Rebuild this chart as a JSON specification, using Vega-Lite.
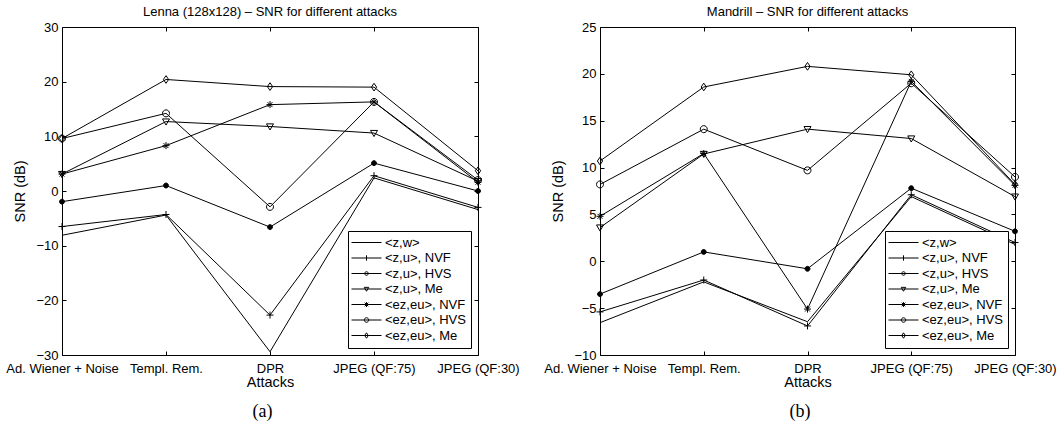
{
  "$schema": "https://vega.github.io/schema/vega-lite/v6.json",
  "padding": {"left": 5, "top": 5, "right": 0, "bottom": 0},
  "background": "white",
  "config": {
    "view": {"stroke": "black", "strokeWidth": 1},
    "font": "Liberation Sans",
    "axis": {
      "grid": false, "domain": false, "tickColor": "black", "tickSize": -4,
      "labelFont": "Liberation Sans", "labelFontSize": 13, "labelColor": "black",
      "titleFont": "Liberation Sans", "titleFontSize": 14.5, "titleFontWeight": "normal", "titleColor": "black",
      "labelOverlap": false, "labelFlush": false, "labelBound": false
    },
    "title": {"font": "Liberation Sans", "fontSize": 13, "fontWeight": "normal", "color": "black"},
    "legend": {
      "orient": "bottom-right", "offset": 7, "strokeColor": "black", "fillColor": "white",
      "padding": 5, "labelFont": "Liberation Sans", "labelFontSize": 13, "labelColor": "black",
      "symbolSize": 36, "symbolStrokeWidth": 1, "symbolOffset": 7, "labelOffset": 12, "rowPadding": 1.5
    }
  },
  "datasets": {
    "lenna": [
      {"attack": "Ad. Wiener + Noise", "series": "<z,w>", "snr": -8.1},
      {"attack": "Templ. Rem.", "series": "<z,w>", "snr": -4.4},
      {"attack": "DPR", "series": "<z,w>", "snr": -29.4},
      {"attack": "JPEG (QF:75)", "series": "<z,w>", "snr": 2.4},
      {"attack": "JPEG (QF:30)", "series": "<z,w>", "snr": -3.4},
      {"attack": "Ad. Wiener + Noise", "series": "<z,u>, NVF", "snr": -6.5},
      {"attack": "Templ. Rem.", "series": "<z,u>, NVF", "snr": -4.3},
      {"attack": "DPR", "series": "<z,u>, NVF", "snr": -22.7},
      {"attack": "JPEG (QF:75)", "series": "<z,u>, NVF", "snr": 2.8},
      {"attack": "JPEG (QF:30)", "series": "<z,u>, NVF", "snr": -3.0},
      {"attack": "Ad. Wiener + Noise", "series": "<z,u>, HVS", "snr": -1.95},
      {"attack": "Templ. Rem.", "series": "<z,u>, HVS", "snr": 1.0},
      {"attack": "DPR", "series": "<z,u>, HVS", "snr": -6.6},
      {"attack": "JPEG (QF:75)", "series": "<z,u>, HVS", "snr": 5.1},
      {"attack": "JPEG (QF:30)", "series": "<z,u>, HVS", "snr": 0.0},
      {"attack": "Ad. Wiener + Noise", "series": "<z,u>, Me", "snr": 3.1},
      {"attack": "Templ. Rem.", "series": "<z,u>, Me", "snr": 12.7},
      {"attack": "DPR", "series": "<z,u>, Me", "snr": 11.8},
      {"attack": "JPEG (QF:75)", "series": "<z,u>, Me", "snr": 10.6},
      {"attack": "JPEG (QF:30)", "series": "<z,u>, Me", "snr": 1.8},
      {"attack": "Ad. Wiener + Noise", "series": "<ez,eu>, NVF", "snr": 3.1},
      {"attack": "Templ. Rem.", "series": "<ez,eu>, NVF", "snr": 8.3},
      {"attack": "DPR", "series": "<ez,eu>, NVF", "snr": 15.8},
      {"attack": "JPEG (QF:75)", "series": "<ez,eu>, NVF", "snr": 16.3},
      {"attack": "JPEG (QF:30)", "series": "<ez,eu>, NVF", "snr": 1.6},
      {"attack": "Ad. Wiener + Noise", "series": "<ez,eu>, HVS", "snr": 9.6},
      {"attack": "Templ. Rem.", "series": "<ez,eu>, HVS", "snr": 14.2},
      {"attack": "DPR", "series": "<ez,eu>, HVS", "snr": -2.9},
      {"attack": "JPEG (QF:75)", "series": "<ez,eu>, HVS", "snr": 16.3},
      {"attack": "JPEG (QF:30)", "series": "<ez,eu>, HVS", "snr": 2.0},
      {"attack": "Ad. Wiener + Noise", "series": "<ez,eu>, Me", "snr": 9.6},
      {"attack": "Templ. Rem.", "series": "<ez,eu>, Me", "snr": 20.4},
      {"attack": "DPR", "series": "<ez,eu>, Me", "snr": 19.1},
      {"attack": "JPEG (QF:75)", "series": "<ez,eu>, Me", "snr": 19.0},
      {"attack": "JPEG (QF:30)", "series": "<ez,eu>, Me", "snr": 3.7}
    ],
    "mandrill": [
      {"attack": "Ad. Wiener + Noise", "series": "<z,w>", "snr": -6.55},
      {"attack": "Templ. Rem.", "series": "<z,w>", "snr": -2.2},
      {"attack": "DPR", "series": "<z,w>", "snr": -6.45},
      {"attack": "JPEG (QF:75)", "series": "<z,w>", "snr": 6.9},
      {"attack": "JPEG (QF:30)", "series": "<z,w>", "snr": 1.8},
      {"attack": "Ad. Wiener + Noise", "series": "<z,u>, NVF", "snr": -5.4},
      {"attack": "Templ. Rem.", "series": "<z,u>, NVF", "snr": -2.0},
      {"attack": "DPR", "series": "<z,u>, NVF", "snr": -6.9},
      {"attack": "JPEG (QF:75)", "series": "<z,u>, NVF", "snr": 7.1},
      {"attack": "JPEG (QF:30)", "series": "<z,u>, NVF", "snr": 2.0},
      {"attack": "Ad. Wiener + Noise", "series": "<z,u>, HVS", "snr": -3.5},
      {"attack": "Templ. Rem.", "series": "<z,u>, HVS", "snr": 1.0},
      {"attack": "DPR", "series": "<z,u>, HVS", "snr": -0.8},
      {"attack": "JPEG (QF:75)", "series": "<z,u>, HVS", "snr": 7.8},
      {"attack": "JPEG (QF:30)", "series": "<z,u>, HVS", "snr": 3.2},
      {"attack": "Ad. Wiener + Noise", "series": "<z,u>, Me", "snr": 3.6},
      {"attack": "Templ. Rem.", "series": "<z,u>, Me", "snr": 11.45},
      {"attack": "DPR", "series": "<z,u>, Me", "snr": 14.1},
      {"attack": "JPEG (QF:75)", "series": "<z,u>, Me", "snr": 13.1},
      {"attack": "JPEG (QF:30)", "series": "<z,u>, Me", "snr": 6.9},
      {"attack": "Ad. Wiener + Noise", "series": "<ez,eu>, NVF", "snr": 4.8},
      {"attack": "Templ. Rem.", "series": "<ez,eu>, NVF", "snr": 11.5},
      {"attack": "DPR", "series": "<ez,eu>, NVF", "snr": -5.1},
      {"attack": "JPEG (QF:75)", "series": "<ez,eu>, NVF", "snr": 19.2},
      {"attack": "JPEG (QF:30)", "series": "<ez,eu>, NVF", "snr": 8.1},
      {"attack": "Ad. Wiener + Noise", "series": "<ez,eu>, HVS", "snr": 8.2},
      {"attack": "Templ. Rem.", "series": "<ez,eu>, HVS", "snr": 14.1},
      {"attack": "DPR", "series": "<ez,eu>, HVS", "snr": 9.7},
      {"attack": "JPEG (QF:75)", "series": "<ez,eu>, HVS", "snr": 19.0},
      {"attack": "JPEG (QF:30)", "series": "<ez,eu>, HVS", "snr": 9.0},
      {"attack": "Ad. Wiener + Noise", "series": "<ez,eu>, Me", "snr": 10.7},
      {"attack": "Templ. Rem.", "series": "<ez,eu>, Me", "snr": 18.6},
      {"attack": "DPR", "series": "<ez,eu>, Me", "snr": 20.8},
      {"attack": "JPEG (QF:75)", "series": "<ez,eu>, Me", "snr": 19.9},
      {"attack": "JPEG (QF:30)", "series": "<ez,eu>, Me", "snr": 8.2}
    ]
  },
  "hconcat": [
    {
      "title": {"text": "(a)", "orient": "bottom", "anchor": "middle", "font": "Liberation Serif", "fontSize": 18, "fontWeight": "normal", "offset": 14},
      "vconcat": [
        {
          "title": {"text": "Lenna (128x128) – SNR for different attacks", "offset": 2},
          "width": 416, "height": 328,
          "data": {"name": "lenna"},
          "resolve": {"axis": {"x": "independent", "y": "independent"}, "scale": {"shape": "independent", "fill": "independent"}},
          "layer": [
            {
              "mark": {"type": "line", "color": "black", "strokeWidth": 1},
              "encoding": {
                "x": {"field": "attack", "type": "nominal", "sort": ["Ad. Wiener + Noise", "Templ. Rem.", "DPR", "JPEG (QF:75)", "JPEG (QF:30)"], "scale": {"type": "point", "padding": 0}, "axis": {"title": "Attacks", "labelAngle": 0, "labelPadding": 11, "titlePadding": 0}},
                "y": {"field": "snr", "type": "quantitative", "scale": {"domain": [-30, 30], "nice": false, "zero": false}, "axis": {"values": [-30, -20, -10, 0, 10, 20, 30], "title": "SNR (dB)", "labelPadding": 8, "titlePadding": 8}},
                "detail": {"field": "series"}
              }
            },
            {
              "transform": [{"filter": "datum.series !== '<z,w>'"}],
              "mark": {"type": "point", "color": "black", "strokeWidth": 1, "size": 49, "opacity": 1},
              "encoding": {
                "x": {"field": "attack", "type": "nominal", "sort": ["Ad. Wiener + Noise", "Templ. Rem.", "DPR", "JPEG (QF:75)", "JPEG (QF:30)"], "axis": null},
                "y": {"field": "snr", "type": "quantitative", "axis": null},
                "shape": {"field": "series", "legend": null, "scale": {
                  "domain": ["<z,u>, NVF", "<z,u>, HVS", "<z,u>, Me", "<ez,eu>, NVF", "<ez,eu>, HVS", "<ez,eu>, Me"],
                  "range": ["M-1,0L1,0M0,-1L0,1", "M0.7,0A0.7,0.7,0,1,1,-0.7,0A0.7,0.7,0,1,1,0.7,0Z", "M-1,-0.75L1,-0.75L0,1Z", "M-1,0L1,0M0,-1L0,1M-0.7,-0.7L0.7,0.7M-0.7,0.7L0.7,-0.7", "M1,0A1,1,0,1,1,-1,0A1,1,0,1,1,1,0Z", "M0,-1.1L0.75,0L0,1.1L-0.75,0Z"]}},
                "fill": {"field": "series", "legend": null, "scale": {
                  "domain": ["<z,u>, NVF", "<z,u>, HVS", "<z,u>, Me", "<ez,eu>, NVF", "<ez,eu>, HVS", "<ez,eu>, Me"],
                  "range": ["transparent", "black", "transparent", "transparent", "transparent", "transparent"]}}
              }
            },
            {
              "mark": {"type": "point", "color": "black", "strokeWidth": 1, "opacity": 0},
              "encoding": {
                "x": {"field": "attack", "type": "nominal", "sort": ["Ad. Wiener + Noise", "Templ. Rem.", "DPR", "JPEG (QF:75)", "JPEG (QF:30)"], "axis": {"orient": "top", "labels": false, "title": null}},
                "y": {"field": "snr", "type": "quantitative", "axis": {"orient": "right", "labels": false, "title": null, "values": [-30, -20, -10, 0, 10, 20, 30]}},
                "shape": {"field": "series", "title": null, "sort": null, "scale": {
                  "domain": ["<z,w>", "<z,u>, NVF", "<z,u>, HVS", "<z,u>, Me", "<ez,eu>, NVF", "<ez,eu>, HVS", "<ez,eu>, Me"],
                  "range": ["M-5,0L5,0", "M-5,0L5,0M0,-0.9L0,0.9", "M-5,0L5,0M0.6,0A0.6,0.6,0,1,1,-0.6,0A0.6,0.6,0,1,1,0.6,0Z", "M-5,0L5,0M-0.75,-0.55L0.75,-0.55L0,0.75Z", "M-5,0L5,0M0,-0.8L0,0.8M-0.6,-0.6L0.6,0.6M-0.6,0.6L0.6,-0.6", "M-5,0L5,0M0.75,0A0.75,0.75,0,1,1,-0.75,0A0.75,0.75,0,1,1,0.75,0Z", "M-5,0L5,0M0,-0.9L0.6,0L0,0.9L-0.6,0Z"]}},
                "fill": {"field": "series", "title": null, "sort": null, "scale": {
                  "domain": ["<z,w>", "<z,u>, NVF", "<z,u>, HVS", "<z,u>, Me", "<ez,eu>, NVF", "<ez,eu>, HVS", "<ez,eu>, Me"],
                  "range": ["transparent", "transparent", "black", "transparent", "transparent", "transparent", "transparent"]}}
              }
            }
          ]
        }
      ]
    },
    {
      "title": {"text": "(b)", "orient": "bottom", "anchor": "middle", "font": "Liberation Serif", "fontSize": 18, "fontWeight": "normal", "offset": 14},
      "vconcat": [
        {
          "title": {"text": "Mandrill – SNR for different attacks", "offset": 2},
          "width": 415, "height": 328,
          "data": {"name": "mandrill"},
          "resolve": {"axis": {"x": "independent", "y": "independent"}, "scale": {"shape": "independent", "fill": "independent"}},
          "layer": [
            {
              "mark": {"type": "line", "color": "black", "strokeWidth": 1},
              "encoding": {
                "x": {"field": "attack", "type": "nominal", "sort": ["Ad. Wiener + Noise", "Templ. Rem.", "DPR", "JPEG (QF:75)", "JPEG (QF:30)"], "scale": {"type": "point", "padding": 0}, "axis": {"title": "Attacks", "labelAngle": 0, "labelPadding": 11, "titlePadding": 0}},
                "y": {"field": "snr", "type": "quantitative", "scale": {"domain": [-10, 25], "nice": false, "zero": false}, "axis": {"values": [-10, -5, 0, 5, 10, 15, 20, 25], "title": "SNR (dB)", "labelPadding": 8, "titlePadding": 8}},
                "detail": {"field": "series"}
              }
            },
            {
              "transform": [{"filter": "datum.series !== '<z,w>'"}],
              "mark": {"type": "point", "color": "black", "strokeWidth": 1, "size": 49, "opacity": 1},
              "encoding": {
                "x": {"field": "attack", "type": "nominal", "sort": ["Ad. Wiener + Noise", "Templ. Rem.", "DPR", "JPEG (QF:75)", "JPEG (QF:30)"], "axis": null},
                "y": {"field": "snr", "type": "quantitative", "axis": null},
                "shape": {"field": "series", "legend": null, "scale": {
                  "domain": ["<z,u>, NVF", "<z,u>, HVS", "<z,u>, Me", "<ez,eu>, NVF", "<ez,eu>, HVS", "<ez,eu>, Me"],
                  "range": ["M-1,0L1,0M0,-1L0,1", "M0.7,0A0.7,0.7,0,1,1,-0.7,0A0.7,0.7,0,1,1,0.7,0Z", "M-1,-0.75L1,-0.75L0,1Z", "M-1,0L1,0M0,-1L0,1M-0.7,-0.7L0.7,0.7M-0.7,0.7L0.7,-0.7", "M1,0A1,1,0,1,1,-1,0A1,1,0,1,1,1,0Z", "M0,-1.1L0.75,0L0,1.1L-0.75,0Z"]}},
                "fill": {"field": "series", "legend": null, "scale": {
                  "domain": ["<z,u>, NVF", "<z,u>, HVS", "<z,u>, Me", "<ez,eu>, NVF", "<ez,eu>, HVS", "<ez,eu>, Me"],
                  "range": ["transparent", "black", "transparent", "transparent", "transparent", "transparent"]}}
              }
            },
            {
              "mark": {"type": "point", "color": "black", "strokeWidth": 1, "opacity": 0},
              "encoding": {
                "x": {"field": "attack", "type": "nominal", "sort": ["Ad. Wiener + Noise", "Templ. Rem.", "DPR", "JPEG (QF:75)", "JPEG (QF:30)"], "axis": {"orient": "top", "labels": false, "title": null}},
                "y": {"field": "snr", "type": "quantitative", "axis": {"orient": "right", "labels": false, "title": null, "values": [-10, -5, 0, 5, 10, 15, 20, 25]}},
                "shape": {"field": "series", "title": null, "sort": null, "scale": {
                  "domain": ["<z,w>", "<z,u>, NVF", "<z,u>, HVS", "<z,u>, Me", "<ez,eu>, NVF", "<ez,eu>, HVS", "<ez,eu>, Me"],
                  "range": ["M-5,0L5,0", "M-5,0L5,0M0,-0.9L0,0.9", "M-5,0L5,0M0.6,0A0.6,0.6,0,1,1,-0.6,0A0.6,0.6,0,1,1,0.6,0Z", "M-5,0L5,0M-0.75,-0.55L0.75,-0.55L0,0.75Z", "M-5,0L5,0M0,-0.8L0,0.8M-0.6,-0.6L0.6,0.6M-0.6,0.6L0.6,-0.6", "M-5,0L5,0M0.75,0A0.75,0.75,0,1,1,-0.75,0A0.75,0.75,0,1,1,0.75,0Z", "M-5,0L5,0M0,-0.9L0.6,0L0,0.9L-0.6,0Z"]}},
                "fill": {"field": "series", "title": null, "sort": null, "scale": {
                  "domain": ["<z,w>", "<z,u>, NVF", "<z,u>, HVS", "<z,u>, Me", "<ez,eu>, NVF", "<ez,eu>, HVS", "<ez,eu>, Me"],
                  "range": ["transparent", "transparent", "black", "transparent", "transparent", "transparent", "transparent"]}}
              }
            }
          ]
        }
      ]
    }
  ],
  "spacing": 23
}
